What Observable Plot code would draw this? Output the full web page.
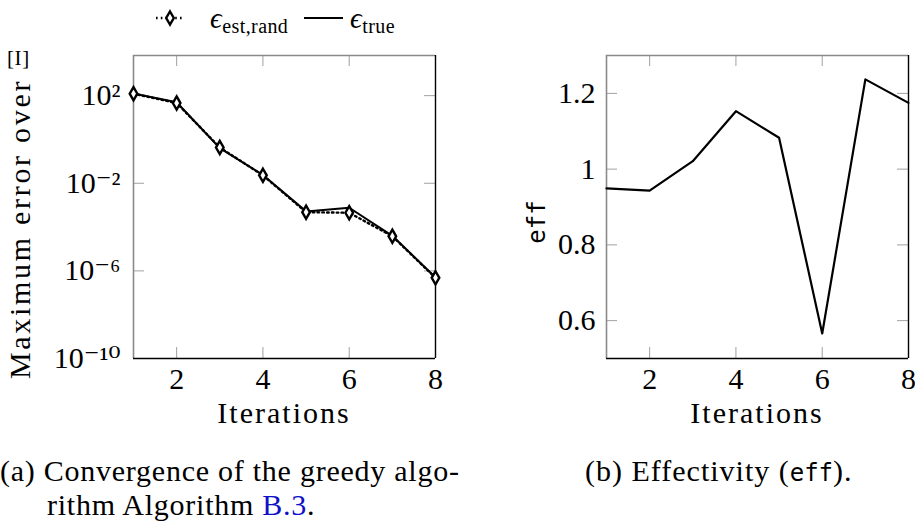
<!DOCTYPE html>
<html>
<head>
<meta charset="utf-8">
<script src="https://cdn.jsdelivr.net/npm/d3@7"></script>
<script src="https://cdn.jsdelivr.net/npm/@observablehq/plot@0.6"></script>
<style>
  html, body { margin: 0; padding: 0; background: #fff; }
  #wrap { position: relative; width: 915px; height: 524px; font-family: "Liberation Serif", "Times New Roman", "DejaVu Serif", serif; color: #000; overflow: hidden; }
  .abs { position: absolute; white-space: nowrap; }
  .serif { font-family: "Liberation Serif", "Times New Roman", "DejaVu Serif", serif; font-size: 30px; line-height: 30px; letter-spacing: 0.6px; }
  .mono { font-family: "DejaVu Sans Mono", "Liberation Mono", monospace; }
</style>
</head>
<body>
<div id="wrap">
  <!-- legend -->
  <svg class="abs" style="left:150px;top:6px" width="40" height="24">
    <line x1="6" y1="12" x2="34" y2="12" stroke="#000" stroke-width="2.4" stroke-dasharray="1.6,3.2"/>
    <path d="M20,5.5 L23.8,12 L20,18.5 L16.2,12 Z" fill="#fff" stroke="#000" stroke-width="2.4"/>
  </svg>
  <div class="abs serif" style="left:210px;top:3px;font-size:29px"><i>ϵ</i><span style="font-size:20px;position:relative;top:5px;letter-spacing:0.4px">est,rand</span></div>
  <svg class="abs" style="left:303px;top:6px" width="42" height="24">
    <line x1="1" y1="12" x2="40" y2="12" stroke="#000" stroke-width="2"/>
  </svg>
  <div class="abs serif" style="left:350px;top:3px;font-size:29px"><i>ϵ</i><span style="font-size:20px;position:relative;top:5px;letter-spacing:0.4px">true</span></div>

  <div id="left" class="abs" style="left:0px;top:40px"></div>
  <div id="right" class="abs" style="left:470px;top:40px"></div>

  <!-- axis titles -->
  <div class="abs serif" style="left:7px;top:48px;font-size:21px;line-height:21px">[I]</div>
  <div class="abs serif" style="left:20px;top:229px;transform:translate(-50%,-50%) rotate(-90deg);letter-spacing:2.7px">Maximum error over</div>
  <div class="abs serif" style="left:284px;top:413px;transform:translate(-50%,-50%);letter-spacing:2px">Iterations</div>
  <div class="abs serif" style="left:757px;top:413px;transform:translate(-50%,-50%);letter-spacing:2px">Iterations</div>
  <div class="abs mono" style="left:537px;top:222px;transform:translate(-50%,-50%) rotate(-90deg);font-size:24px;line-height:24px">eff</div>

  <!-- captions -->
  <div class="abs serif" style="left:0px;top:456px;letter-spacing:0.75px">(a) Convergence of the greedy algo-</div>
  <div class="abs serif" style="left:47px;top:490px;letter-spacing:0.75px">rithm Algorithm <span style="color:#1010c8">B.3</span>.</div>
  <div class="abs serif" style="left:585px;top:456px;letter-spacing:1px">(b) Effectivity (<span class="mono" style="font-size:24px;letter-spacing:0">eff</span>).</div>
</div>
<script>
// ---------- data ----------
const iterations = [1, 2, 3, 4, 5, 6, 7, 8];
const errTrue    = [126, 50, 0.40, 0.024, 5.2e-4, 7.6e-4, 4.0e-5, 5.0e-7];
const errEstRand = [123, 46, 0.43, 0.023, 4.8e-4, 4.5e-4, 3.8e-5, 4.8e-7];
const effValues  = [0.949, 0.943, 1.021, 1.153, 1.083, 0.566, 1.237, 1.175];
const xTicks     = [2, 4, 6, 8];
const logTicks   = [1e2, 1e-2, 1e-6, 1e-10];
const logTickLabels = ["10²", "10⁻²", "10⁻⁶", "10⁻¹⁰"];
const effTicks   = [0.6, 0.8, 1, 1.2];
const effTickLabels = ["0.6", "0.8", "1", "1.2"];

const trueRows = iterations.map((x, i) => ({x, y: errTrue[i]}));
const estRows  = iterations.map((x, i) => ({x, y: errEstRand[i]}));
const effRows  = iterations.map((x, i) => ({x, y: effValues[i]}));

const FONT = {fontFamily: "'Liberation Serif', 'Times New Roman', 'DejaVu Serif', serif", fontSize: "30px", background: "transparent", overflow: "visible"};
const TICKLEN = 11;
const GRAY = "#8a8a8a";
const TICKGRAY = "#a0a0a0";

function frameMarks(xd, yd, innerH) {
  return [
    Plot.tickX(xTicks, {x: d => d, insetTop: innerH - TICKLEN, stroke: TICKGRAY, strokeWidth: 1}),
    Plot.tickX(xTicks, {x: d => d, insetBottom: innerH - TICKLEN, stroke: TICKGRAY, strokeWidth: 1}),
    Plot.ruleX([xd[0]], {stroke: GRAY, strokeWidth: 1.6}),
    Plot.ruleY([yd[1]], {stroke: GRAY, strokeWidth: 1.6}),
    Plot.ruleX([xd[1]], {stroke: "#000", strokeWidth: 1.4}),
    Plot.ruleY([yd[0]], {stroke: "#000", strokeWidth: 1.4})
  ];
}

// ---------- left chart ----------
{
  const W = 450, H = 360, mL = 133, mR = 15, mT = 15, mB = 42;
  const innerW = W - mL - mR, innerH = H - mT - mB;
  const xd = [1, 8], yd = [1e-10, 6800];
  const chart = Plot.plot({
    width: W, height: H,
    marginLeft: mL, marginRight: mR, marginTop: mT, marginBottom: mB,
    style: FONT,
    x: {domain: xd},
    y: {type: "log", domain: yd},
    marks: [
      Plot.tickY(logTicks, {y: d => d, insetLeft: innerW - TICKLEN, stroke: TICKGRAY, strokeWidth: 1}),
      Plot.tickY(logTicks, {y: d => d, insetRight: innerW - TICKLEN, stroke: TICKGRAY, strokeWidth: 1}),
      ...frameMarks(xd, yd, innerH),
      Plot.axisX({ticks: xTicks, tickSize: 0, tickPadding: 9, tickFormat: d => String(d), label: null, fontSize: 30}),
      Plot.axisY({ticks: logTicks, tickSize: 0, tickPadding: 13, tickFormat: d => logTickLabels[logTicks.indexOf(d)], label: null, fontSize: 30}),
      Plot.line(estRows, {x: "x", y: "y", stroke: "#000", strokeWidth: 2.4, strokeDasharray: "1.6,3.2"}),
      Plot.line(trueRows, {x: "x", y: "y", stroke: "#000", strokeWidth: 2}),
      Plot.dot(estRows, {x: "x", y: "y", symbol: "diamond", r: 4, fill: "#fff", stroke: "#000", strokeWidth: 2.4})
    ]
  });
  document.getElementById("left").appendChild(chart);
}

// ---------- right chart ----------
{
  const W = 445, H = 360, mL = 136, mR = 7, mT = 15, mB = 42;
  const innerW = W - mL - mR, innerH = H - mT - mB;
  const xd = [1, 8], yd = [0.5, 1.3];
  const chart = Plot.plot({
    width: W, height: H,
    marginLeft: mL, marginRight: mR, marginTop: mT, marginBottom: mB,
    style: FONT,
    x: {domain: xd},
    y: {domain: yd},
    marks: [
      Plot.tickY(effTicks, {y: d => d, insetLeft: innerW - TICKLEN, stroke: TICKGRAY, strokeWidth: 1}),
      Plot.tickY(effTicks, {y: d => d, insetRight: innerW - TICKLEN, stroke: TICKGRAY, strokeWidth: 1}),
      ...frameMarks(xd, yd, innerH),
      Plot.axisX({ticks: xTicks, tickSize: 0, tickPadding: 9, tickFormat: d => String(d), label: null, fontSize: 30}),
      Plot.axisY({ticks: effTicks, tickSize: 0, tickPadding: 11, tickFormat: d => effTickLabels[effTicks.indexOf(d)], label: null, fontSize: 30}),
      Plot.line(effRows, {x: "x", y: "y", stroke: "#000", strokeWidth: 2.2})
    ]
  });
  document.getElementById("right").appendChild(chart);
}
</script>
</body>
</html>
